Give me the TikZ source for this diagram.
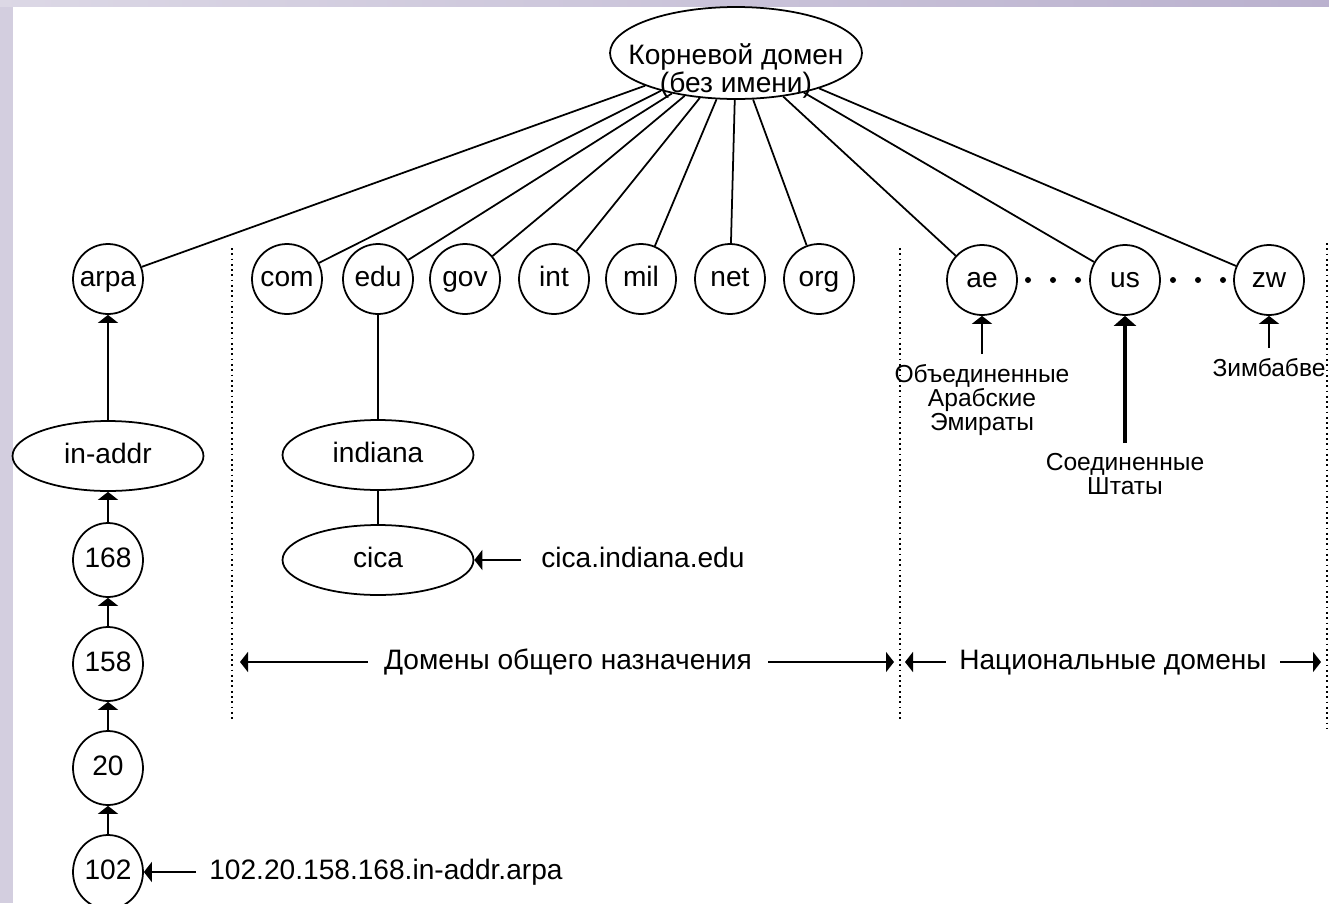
\documentclass[tikz,border=0pt]{standalone}
\usepackage{fontspec}
\setmainfont{Liberation Sans}
\usetikzlibrary{shapes.geometric,arrows.meta}

\definecolor{lavleft}{RGB}{211,206,223}
\definecolor{lavtop}{RGB}{186,177,206}

\tikzset{
  dom/.style={circle, draw, line width=1pt, minimum size=1.4cm, inner sep=0pt, text height=0.9em, text depth=0.1em, font=\fontsize{16}{18}\selectfont},
  num/.style={ellipse, draw, line width=1pt, minimum width=1.4cm, minimum height=1.48cm, inner sep=0pt, text height=0.9em, text depth=0.1em, font=\fontsize{16}{18}\selectfont},
  wide/.style={ellipse, draw, line width=1pt, minimum width=3.82cm, minimum height=1.4cm, inner sep=0pt, text height=0.9em, text depth=0.1em, font=\fontsize{16}{18}\selectfont},
  link/.style={line width=1pt},
  uparrow/.style={line width=1pt, -{Triangle[width=0.4cm,length=0.16cm]}},
  bigarrow/.style={line width=2.4pt, -{Triangle[width=0.44cm,length=0.2cm]}},
  txt/.style={font=\fontsize{16}{18}\selectfont, inner ysep=0pt, text height=0.9em, text depth=0.1em},
  note/.style={font=\fontsize{14}{13.7}\selectfont, align=center, inner xsep=0pt, inner ysep=0.2cm},
  divider/.style={dotted, line width=1pt},
}

\begin{document}
\begin{tikzpicture}[x=0.02cm, y=-0.02cm]
    \useasboundingbox (0,0) rectangle (1329,903);
    % Slide frame
    \fill[lavleft] (0,0) rectangle (13,903);
    \shade[left color=lavleft!80!white, right color=lavtop] (0,0) rectangle (1329,6);

    % Root
    \node[ellipse, draw, line width=1pt, minimum width=5.04cm, minimum height=1.84cm] (root) at (736,53) {};
    \node[font=\fontsize{16}{14}\selectfont, align=center, inner sep=0pt] (roottxt) at (736,71) {Корневой домен\\(без имени)};

    % Top level domains
    \node[dom] (arpa) at (108,279) {arpa};
    \foreach \name/\x in {com/287, edu/378, gov/465, int/554, mil/641, net/730, org/819}
        \node[dom] (\name) at (\x,279) {\name};
    \node[dom] (ae) at (982,280) {ae};
    \node[dom] (us) at (1125,280) {us};
    \node[dom] (zw) at (1269,280) {zw};
    \foreach \name in {arpa, com, edu, gov, int, mil, net, org, ae, us, zw}
        \draw[link] (root) -- (\name);
    \foreach \x in {1028,1053,1078,1173,1198,1223}
        \fill (\x,280) circle (3);

    % Reverse lookup chain
    \node[wide] (inaddr) at (108,456) {in-addr};
    \node[num] (n168) at (108,560) {168};
    \node[num] (n158) at (108,664) {158};
    \node[num] (n20) at (108,768) {20};
    \node[num] (n102) at (108,872) {102};
    \draw[uparrow] (inaddr) -- (arpa);
    \draw[uparrow] (n168) -- (inaddr);
    \draw[uparrow] (n158) -- (n168);
    \draw[uparrow] (n20) -- (n158);
    \draw[uparrow] (n102) -- (n20);
    \node[txt, anchor=west, inner xsep=0.26cm] (addr) at (196,872) {102.20.158.168.in-addr.arpa};
    \draw[uparrow] (addr.west) -- (n102.east);

    % edu branch
    \node[wide] (indiana) at (378,455) {indiana};
    \node[wide] (cica) at (378,560) {cica};
    \draw[link] (edu) -- (indiana);
    \draw[link] (indiana) -- (cica);
    \node[txt, anchor=west, inner xsep=0.4cm] (cicaname) at (521,560) {cica.indiana.edu};
    \draw[uparrow] (cicaname.west) -- (cica.east);

    % Dividers
    \draw[divider] (232,248) -- (232,720);
    \draw[divider] (900,248) -- (900,720);
    \draw[divider] (1327,243) -- (1327,728);

    % Domain groups
    \node[txt, inner xsep=0.32cm] (general) at (568,662) {Домены общего назначения};
    \coordinate (genl) at (240,662);
    \coordinate (genr) at (894,662);
    \draw[uparrow] (general) -- (genl);
    \draw[uparrow] (general) -- (genr);
    \node[txt, inner xsep=0.26cm] (national) at (1113,662) {Национальные домены};
    \coordinate (natl) at (905,662);
    \coordinate (natr) at (1321,662);
    \draw[uparrow] (national) -- (natl);
    \draw[uparrow] (national) -- (natr);

    % Country names
    \node[note, anchor=north] (uae) at (982,354) {Объединенные\\Арабские\\Эмираты};
    \draw[uparrow] (uae.north) -- (ae);
    \node[note, anchor=north] (usa) at (1125,443) {Соединенные\\Штаты};
    \draw[bigarrow] (usa.north) -- (us);
    \node[note, anchor=north] (zimb) at (1269,348) {Зимбабве};
    \draw[uparrow] (zimb.north) -- (zw);
\end{tikzpicture}
\end{document}
